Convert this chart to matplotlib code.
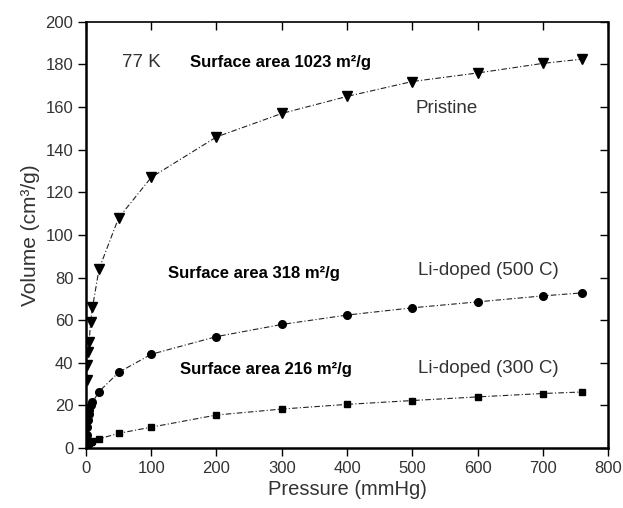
import matplotlib.pyplot as plt

plt.rcParams['font.family'] = ['Liberation Sans', 'DejaVu Sans']

# Pristine (triangles)
p_x = [1, 2, 3, 5, 7, 10, 20, 50, 100, 200, 300, 400, 500, 600, 700, 760]
p_y = [32, 39, 45, 50, 59, 66, 84, 108, 127, 146, 157, 165, 172, 176, 180.5, 182.5]

# Li-doped 500 C (circles)
c_x = [0.5, 1, 2, 3, 4, 5, 7, 10, 20, 50, 100, 200, 300, 400, 500, 600, 700, 760]
c_y = [3, 6, 10, 13, 16, 18, 20, 21.5, 26.5, 35.5, 44, 52.3, 58, 62.4, 65.8, 68.6, 71.4, 72.8]

# Li-doped 300 C (squares)
s_x = [0.5, 1, 2, 3, 5, 7, 10, 20, 50, 100, 200, 300, 400, 500, 600, 700, 760]
s_y = [0.8, 1.2, 1.6, 2.0, 2.4, 2.8, 3.2, 4.3, 6.9, 9.8, 15.5, 18.3, 20.5, 22.3, 24.0, 25.6, 26.3]

fig = plt.figure(figsize=(6.23, 5.08), dpi=100)
ax = fig.add_axes([0.138, 0.118, 0.838, 0.839])

dashdot = (0, (5, 2, 1, 2))
ax.plot(p_x, p_y, color='#222222', lw=0.8, ls=dashdot, marker='v', ms=7,
        mfc='black', mec='black')
ax.plot(c_x, c_y, color='#222222', lw=0.8, ls=dashdot, marker='o', ms=5.5,
        mfc='black', mec='black')
ax.plot(s_x, s_y, color='#222222', lw=0.8, ls=dashdot, marker='s', ms=5,
        mfc='black', mec='black')

ax.set_xlim(0, 800)
ax.set_ylim(0, 200)
ax.set_xticks(range(0, 801, 100))
ax.set_yticks(range(0, 201, 20))

ax.tick_params(axis='both', which='major', direction='out', length=6, width=1,
               labelsize=12, labelcolor='#333333', pad=3)
ax.tick_params(top=True, right=True)
for t in ax.xaxis.get_major_ticks():
    t.tick2line.set_marker(3)  # inward on top
for t in ax.yaxis.get_major_ticks():
    t.tick2line.set_marker(0)  # inward on right
for sp in ['left', 'right', 'bottom']:
    ax.spines[sp].set_linewidth(1.8)
ax.spines['top'].set_linewidth(1.2)

ax.set_xlabel('Pressure (mmHg)', fontsize=14.5, color='#333333', labelpad=3)
ax.set_ylabel('Volume (cm³/g)', fontsize=15, color='#333333', labelpad=4)

ax.text(55, 181, '77 K', fontsize=13.5, color='#333333', va='center')
ax.text(159, 181, 'Surface area 1023 m²/g', fontsize=12, fontweight='bold', va='center')
ax.text(505, 159.5, 'Pristine', fontsize=13.5, color='#333333', va='center')
ax.text(126, 82, 'Surface area 318 m²/g', fontsize=12, fontweight='bold', va='center')
ax.text(509, 83.5, 'Li-doped (500 C)', fontsize=13.5, color='#333333', va='center')
ax.text(144, 37, 'Surface area 216 m²/g', fontsize=12, fontweight='bold', va='center')
ax.text(509, 37.5, 'Li-doped (300 C)', fontsize=13.5, color='#333333', va='center')

fig.savefig('out.png', dpi=100)
